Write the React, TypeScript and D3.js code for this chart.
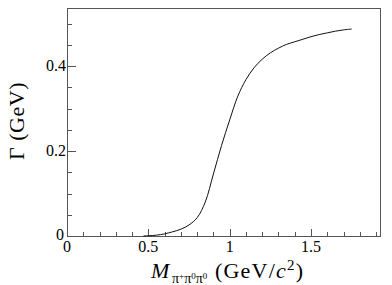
import React, { useEffect, useRef } from 'react';
import * as d3 from 'd3';

// mass (GeV/c^2) and width (GeV)
const massValues = [
  0.47, 0.5, 0.55, 0.6, 0.65, 0.7, 0.75, 0.8, 0.85, 0.9, 0.95, 1.0, 1.05, 1.1, 1.15,
  1.2, 1.25, 1.3, 1.35, 1.4, 1.45, 1.5, 1.55, 1.6, 1.65, 1.7, 1.75,
];
const widthValues = [
  0, 0.0005, 0.002, 0.005, 0.01, 0.016, 0.026, 0.043, 0.08, 0.146, 0.213, 0.273, 0.329,
  0.368, 0.396, 0.416, 0.431, 0.442, 0.451, 0.457, 0.463, 0.469, 0.474, 0.478, 0.482,
  0.485, 0.487,
];
const xTickLabels = [0, 0.5, 1, 1.5];
const yTickLabels = [0, 0.2, 0.4];

const W = 392;
const H = 285;
const frame = { left: 67, top: 8, right: 380, bottom: 236 };
const FONT = 'Liberation Serif, Times New Roman, Times, serif';

const App: React.FC = () => {
  const ref = useRef<SVGSVGElement | null>(null);

  useEffect(() => {
    if (!ref.current) return;
    const svg = d3.select(ref.current).style('font-family', FONT);
    svg.selectAll('*').remove();

    const x = d3.scaleLinear().domain([0, 1.924]).range([frame.left, frame.right]);
    const y = d3.scaleLinear().domain([0, 0.5365]).range([frame.bottom, frame.top]);

    // ticks drawn inside the frame (ROOT style)
    const g = svg.append('g').attr('stroke', '#555').attr('stroke-width', 1);
    d3.range(0, 1.92, 0.1).forEach((v) => {
      const major = Math.abs(v * 2 - Math.round(v * 2)) < 1e-6;
      const px = Math.round(x(v)) + 0.5;
      g.append('line')
        .attr('x1', px).attr('x2', px)
        .attr('y1', frame.bottom).attr('y2', frame.bottom - (major ? 7 : 4));
    });
    d3.range(0, 0.53, 0.05).forEach((v) => {
      const major = Math.abs(v * 5 - Math.round(v * 5)) < 1e-6;
      const py = Math.round(y(v)) + 0.5;
      g.append('line')
        .attr('x1', frame.left).attr('x2', frame.left + (major ? 9 : 5))
        .attr('y1', py).attr('y2', py);
    });

    g.append('rect')
      .attr('x', frame.left + 0.5)
      .attr('y', frame.top + 0.5)
      .attr('width', frame.right - frame.left)
      .attr('height', frame.bottom - frame.top)
      .attr('fill', 'none');

    // tick labels
    svg.append('g')
      .selectAll('text')
      .data(xTickLabels)
      .join('text')
      .attr('x', (d) => x(d))
      .attr('y', frame.bottom + 16)
      .attr('text-anchor', 'middle')
      .attr('font-size', 16)
      .text((d) => d3.format('')(d));

    svg.append('g')
      .selectAll('text')
      .data(yTickLabels)
      .join('text')
      .attr('x', (d) => (d === 0 ? frame.left - 3 : frame.left - 1))
      .attr('y', (d) => y(d) + (d === 0 ? 4 : 5))
      .attr('text-anchor', 'end')
      .attr('font-size', 16)
      .text((d) => d3.format('')(d));

    // curve
    const pts = massValues.map((m, i) => [m, widthValues[i]] as [number, number]);
    const line = d3
      .line<[number, number]>()
      .x((d) => x(d[0]))
      .y((d) => y(d[1]))
      .curve(d3.curveCatmullRom.alpha(0.5));
    svg.append('path')
      .attr('d', line(pts))
      .attr('fill', 'none')
      .attr('stroke', '#111')
      .attr('stroke-width', 1);

    // y axis title
    svg.append('text')
      .attr('transform', `translate(24, 121) rotate(-90)`)
      .attr('text-anchor', 'middle')
      .attr('font-size', 22)
      .attr('letter-spacing', 0.5)
      .text('Γ (GeV)');

    // x axis title
    svg.append('text')
      .attr('x', 151)
      .attr('y', 278)
      .attr('font-size', 22)
      .attr('font-style', 'italic')
      .text('M');

    const sub = svg.append('text')
      .attr('x', 172)
      .attr('y', 283)
      .attr('font-size', 14);
    sub.append('tspan').text('π');
    sub.append('tspan').attr('font-size', 9).attr('dy', -4).text('+');
    sub.append('tspan').attr('dy', 4).text('π');
    sub.append('tspan').attr('font-size', 9).attr('dy', -4).text('0');
    sub.append('tspan').attr('dy', 4).text('π');
    sub.append('tspan').attr('font-size', 9).attr('dy', -4).text('0');

    const unit = svg.append('text')
      .attr('x', 215)
      .attr('y', 278)
      .attr('font-size', 22)
      .attr('letter-spacing', 1.2);
    unit.append('tspan').text('(GeV/');
    unit.append('tspan').attr('font-style', 'italic').text('c');
    unit.append('tspan').attr('font-size', 15).attr('dy', -8).text('2');
    unit.append('tspan').attr('dy', 8).text(')');
  }, []);

  return (
    <div style={{ position: 'absolute', left: 0, top: 0 }}>
      <svg ref={ref} width={W} height={H} style={{ display: 'block', background: '#fff' }} />
    </div>
  );
};

export default App;
